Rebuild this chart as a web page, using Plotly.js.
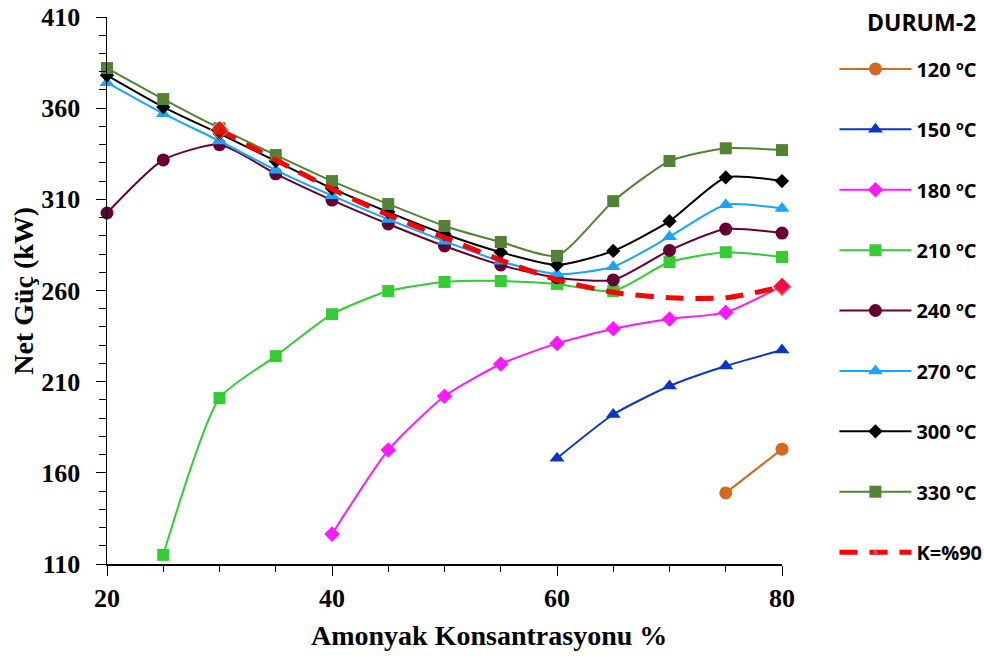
<!DOCTYPE html>
<html><head><meta charset="utf-8">
<script src="https://cdn.plot.ly/plotly-3.0.1.min.js"></script>
<style>html,body{margin:0;padding:0;background:#fff}#chart{width:984px;height:659px}</style>
</head><body><div id="chart"></div>
<script>
const xFull = [20,25,30,35,40,45,50,55,60,65,70,75,80];
const x120 = [75,80];
const y120 = [149,173];
const x150 = [60,65,70,75,80];
const y150 = [168,192,207.6,218.6,227.4];
const x180 = [40,45,50,55,60,65,70,75,80];
const y180 = [126.4,172.5,202,219.7,231,239,244.4,248,262.5];
const x210 = [25,30,35,40,45,50,55,60,65,70,75,80];
const y210 = [115,201,224,247,259.7,264.7,265.2,263.6,259.7,275.6,281,278.4];
const y240 = [302.5,331.6,340,324,309.6,296.5,284.4,274,267,265.8,282,293.7,291.5];
const y270 = [374,357,342,326,312,299,287,276,269,273,289.5,307,305];
const y300 = [378,360.6,346,331,316,303,291,281,274,281.7,298,322,320];
const y330 = [382,365,349,334.3,320,307.4,295.4,286.6,279,309,331,338,337];
const xK = [30,35,40,45,50,55,60,65,70,75,80];
const yK = [348,331.6,315.7,301.4,289,276.7,265.8,259,256,256,262];
const names = ['120 ºC','150 ºC','180 ºC','210 ºC','240 ºC','270 ºC','300 ºC','330 ºC','K=%90'];
const legendTitle = 'DURUM-2';
const xTitle = 'Amonyak Konsantrasyonu %';
const yTitle = 'Net Güç (kW)';

function tr(x,y,name,color,symbol,size,i){
  return {x:x,y:y,name:name,type:'scatter',mode:'lines+markers',cliponaxis:false,
    legendgroup:'g'+i,
    line:{color:color,width:2,shape:'spline',smoothing:0.6},
    marker:{color:color,symbol:symbol,size:size}};
}
const data = [
  tr(x120,y120,names[0],'#D2691E','circle',13,0),
  tr(x150,y150,names[1],'#0B35C8','triangle-up',13,1),
  tr(x180,y180,names[2],'#FF19FF','diamond',12,2),
  tr(x210,y210,names[3],'#33CC33','square',12,3),
  tr(xFull,y240,names[4],'#660033','circle',13,4),
  tr(xFull,y270,names[5],'#1AA3FF','triangle-up',13,5),
  tr(xFull,y300,names[6],'#000000','diamond',11,6),
  tr(xFull,y330,names[7],'#548235','square',12,7),
  {x:xK,y:yK,name:names[8],type:'scatter',mode:'lines+markers',cliponaxis:false,legendgroup:'g8',
   line:{color:'#FF0000',width:5,dash:'18px,12px',shape:'spline',smoothing:0.6},
   marker:{color:'#FF0000',symbol:'diamond',size:xK.map((v,i)=> (i===0||i===xK.length-1)?15:0)}}
];
const serif = 'Liberation Serif, Times New Roman, serif';
const axFont = {family:serif,size:26,color:'#000',weight:'bold'};
const layout = {
  width:984,height:659,
  margin:{l:107,r:202,t:17,b:95,autoexpand:false},
  paper_bgcolor:'#fff',plot_bgcolor:'#fff',
  showlegend:true,
  legend:{xref:'container',yref:'container',x:0.848,y:0.925,xanchor:'left',yanchor:'top',
    maxheight:1,itemwidth:72,
    font:{family:'Open Sans, DejaVu Sans, sans-serif',size:20,color:'#000',weight:'bold'},
    traceorder:'grouped',tracegroupgap:31.4,bgcolor:'rgba(0,0,0,0)'},
  xaxis:{range:[20,80],tickmode:'linear',tick0:20,dtick:20,automargin:false,
    showline:true,linecolor:'#000',linewidth:1.5,ticks:'outside',ticklen:10,tickcolor:'#000',
    showgrid:false,zeroline:false,
    minor:{dtick:5,ticks:'outside',ticklen:6,tickcolor:'#000',showgrid:false},
    tickfont:axFont},
  yaxis:{range:[110,410],tickmode:'linear',tick0:110,dtick:50,automargin:false,
    showline:true,linecolor:'#000',linewidth:1.5,ticks:'outside',ticklen:10,tickcolor:'#000',
    ticklabelstandoff:10,
    showgrid:false,zeroline:false,
    minor:{dtick:10,ticks:'outside',ticklen:7,tickcolor:'#000',showgrid:false},
    tickfont:axFont},
  annotations:[
    {xref:'paper',yref:'paper',x:0.566,y:-0.13,xanchor:'center',yanchor:'middle',showarrow:false,
     text:'<b>'+xTitle+'</b>',font:{family:serif,size:28,color:'#000'}},
    {xref:'paper',yref:'paper',x:-0.124,y:0.5,xanchor:'center',yanchor:'middle',showarrow:false,textangle:-90,
     text:'<b>'+yTitle+'</b>',font:{family:serif,size:28,color:'#000'}},
    {xref:'paper',yref:'paper',x:(921-107)/675,y:(564-22)/547,xanchor:'center',yanchor:'middle',showarrow:false,
     text:'<b>'+legendTitle+'</b>',font:{family:'Open Sans, DejaVu Sans, sans-serif',size:23,color:'#000'}}
  ]
};
Plotly.newPlot('chart',data,layout,{displayModeBar:false,staticPlot:true});
</script></body></html>
